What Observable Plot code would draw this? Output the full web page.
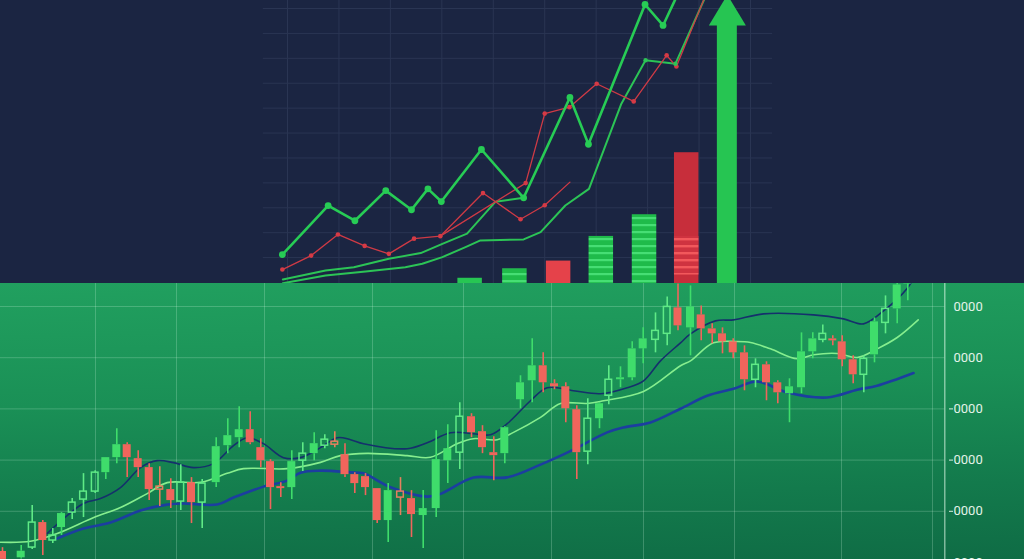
<!DOCTYPE html>
<html><head><meta charset="utf-8">
<script src="https://cdn.jsdelivr.net/npm/d3@7"></script>
<script src="https://cdn.jsdelivr.net/npm/@observablehq/plot@0.6"></script>
<style>
html,body{margin:0;padding:0;background:#1b2542;width:1024px;height:559px;overflow:hidden;}
#top{width:1024px;height:283px;background:#1b2542;}
#bottom{width:1024px;height:276px;background:linear-gradient(178deg,#21a05f 0%,#1a9056 40%,#137a4c 75%,#0f6c45 100%);}
svg{display:block;overflow:hidden;}
</style></head><body><div id="top"></div><div id="bottom"></div>
<script>
// ---------- TOP PANEL DATA ----------
const topGridX = [0,1,2,3,4,5,6,7,8,9];
const topGridY = [1,2,3,4,5,6,7,8,9,10,11];
const greenX = [-0.10,0.79,1.31,1.91,2.41,2.73,2.99,3.77,4.59,5.49,5.85,6.95,7.30,7.75];
const greenY = [1.12,3.09,2.48,3.69,2.92,3.76,3.25,5.34,3.40,7.43,5.55,11.16,10.32,12.3];
const redAX = [-0.10,0.46,0.98,1.50,1.97,2.46,2.97,3.80,4.53,5.00,5.49];
const redAY = [0.52,1.08,1.93,1.47,1.15,1.76,1.86,3.59,2.54,3.10,4.03];
const redBX = [2.97,4.63,5.00,5.48,6.01,6.73,7.37,7.56,8.22];
const redBY = [1.86,3.99,6.78,7.04,7.98,7.27,9.12,8.67,12.0];
const midGreenX = [-0.09,0.74,1.29,1.97,2.59,3.01,3.49,4.04,4.59];
const midGreenY = [0.12,0.48,0.61,0.95,1.18,1.55,1.96,3.24,3.40];
const lowGreenX = [-0.09,0.74,1.52,2.29,2.62,3.01,3.46,3.75,4.59,4.92,5.40,5.86,6.49,6.96,7.54,8.26];
const lowGreenY = [-0.03,0.28,0.44,0.61,0.75,1.02,1.42,1.69,1.73,2.02,3.09,3.76,7.18,8.92,8.78,12.1];
const barX = [3.55,4.42,5.27,6.10,6.94,7.76];
const barValue = [0.17,0.55,0.86,1.85,2.72,5.21];
const barKind = ["up","up","down","up","up","down"];
const arrowX = 8.55, arrowValue = 10.32, arrowTip = 11.55;

// ---------- BOTTOM PANEL DATA ----------
const candleT = [0.2,2.07,3.17,4.23,5.23,6.10,7.17,8.30,9.47,10.53,11.63,12.67,13.77,14.87,15.93,17.03,18.03,19.10,20.17,21.57,22.73,23.87,24.97,26.03,27.00,28.03,29.13,30.23,31.37,32.43,33.43,34.45,35.43,36.50,37.67,38.77,40.00,41.10,42.27,43.57,44.73,45.93,47.10,48.20,49.33,50.43,52.00,53.17,54.27,55.40,56.53,57.63,58.73,59.90,60.83,62.00,63.17,64.27,65.50,66.67,67.75,69.00,70.07,71.17,72.20,73.27,74.40,75.50,76.60,77.73,78.90,80.10,81.23,82.23,83.23,84.17,85.27,86.33,87.40,88.50,89.67,90.73];
const candleOpen = [215,92,292,780,429,683,975,1229,1385,1755,2048,2301,2028,1853,1482,1424,1190,1560,1170,1560,2282,2438,2594,2243,1970,1482,1463,1989,2126,2282,2360,2106,1716,1677,1443,819,1385,1248,917,1053,1989,2145,2847,2555,2145,2126,3179,3549,3842,3491,3432,2984,2165,2808,3257,3569,3608,4173,4349,4466,4973,4583,4836,4563,4466,4310,4095,3569,3861,3510,3296,3413,4115,4349,4368,4310,3959,3666,4056,4680,4953,5440];
const candleClose = [60,220,780,429,527,956,1170,1385,1755,2048,2301,2048,1853,1424,1424,1209,1560,1170,1541,2262,2477,2594,2340,1989,1463,1443,1970,2126,2321,2399,2301,1716,1541,1463,819,1404,1268,936,1053,2009,2223,2847,2535,2243,2087,2633,3510,3842,3510,3432,3003,2145,2808,3101,3569,3608,4173,4368,4524,4992,4622,4992,4563,4466,4310,4095,3569,3861,3510,3315,3432,4115,4368,4466,4329,3959,3666,3978,4700,4953,5421,5900];
const candleHigh = [290,332,1112,819,663,975,1248,1736,1794,2048,2613,2340,2184,1931,1872,1638,1911,1658,1619,2438,2808,3042,2945,2418,2009,1560,2184,2340,2535,2496,2555,2321,1755,1736,1443,1541,1658,1404,1404,2574,2691,3120,2906,2672,2457,2652,3647,4368,4095,3569,3510,3062,3198,3120,3842,3822,4310,4583,4875,5187,5441,5402,5012,4661,4583,4368,4232,3978,3920,3549,3588,4485,4485,4641,4427,4427,4037,4037,4778,5207,5694,6050];
const candleLow = [20,68,254,137,371,527,839,878,1346,1619,1931,1658,1658,1209,1092,1053,1014,761,663,1463,2126,2243,2301,1853,1034,1268,1229,1775,1989,2223,2243,1658,1346,1307,761,390,917,488,273,878,1541,1814,2438,2126,1599,1931,3003,3120,3315,3374,2730,1619,1911,2613,3081,3413,3549,3881,4095,4232,4524,4037,4329,4271,4076,3978,3354,3413,3159,3101,2730,3296,3978,4290,4232,3822,3491,3315,3900,4466,4661,5110];
const candleKind = ["r","g","hg","r","hg","g","hg","hg","hg","g",
  "g","r","r","r","hr","r","hg","r","hg","g",
  "g","g","r","r","r","r","g","hg","g","hg",
  "hr","r","r","r","r","g","hr","r","g","g",
  "g","hg","r","r","r","g","g","g","r","r",
  "r","r","hg","g","hg","g","g","g","hg","hg",
  "r","g","r","r","r","r","r","hg","r","r",
  "g","g","g","hg","r","r","r","hg","g","hg",
  "g","g"];
const upperT = [4.67,8.3,10.0,12.0,14.0,15.67,17.3,19.3,21.3,23.3,24.67,26.3,28.3,30.0,32.0,33.67,35.0,36.3,40.67,42.67,45.0,47.3,49.0,50.67,53.0,54.67,57.3,60.0,62.67,64.3,66.0,68.0,69.0,71.5,73.3,76.3,81.3,84.3,86.3,88.3,90.7,92.0];
const upperP = [566,1151,1248,1463,1853,1989,1950,1853,1931,2282,2438,2321,2048,2048,2243,2438,2399,2321,2223,2340,2535,2516,2496,2711,3159,3413,3354,3296,3413,3549,3939,4290,4466,4719,4739,4856,4836,4758,4661,4914,5363,5792];
const midT = [0,3.0,5.67,9.33,12.0,14.67,16.67,20.0,22.67,24.3,28.67,32.0,34.0,36.67,40.67,43.0,45.67,47.3,49.67,51.3,54.0,56.0,58.67,60.3,64.3,68.0,69.0,71.3,73.67,75.0,77.0,79.67,81.3,83.67,85.67,87.67,89.67,91.77];
const midP = [396,415,566,878,1073,1346,1560,1566,1741,1833,1833,1956,2087,2132,2087,2054,2321,2418,2399,2541,2834,3106,3106,3159,3340,3842,3939,4290,4316,4296,4173,3978,4056,4082,4004,4173,4394,4739];
const lowerT = [5.67,8.3,11.0,14.0,16.67,18.3,21.67,23.3,26.3,28.67,30.0,32.0,35.0,36.3,39.0,42.67,44.0,47.3,50.67,54.0,57.3,60.67,62.3,65.0,68.0,70.67,73.3,75.67,78.67,82.67,85.67,87.67,91.3];
const lowerP = [468,663,780,1014,1131,1151,1131,1268,1482,1599,1755,1794,1761,1741,1468,1287,1340,1658,1663,1911,2204,2541,2638,2736,3003,3257,3393,3535,3321,3223,3374,3452,3700];
const gridT = [9.5,17.6,26.4,37.2,46.3,55.1,64.3,73.4,84.1,93.2];
const gridP = [0,1000,2000,3000,4000,5000];
const axisLabels = ["0000","0000","0000","0000","0000","0000"];
const axisT = 94.43;

// ---------- TOP CHART ----------
const zip = (xs, ys) => xs.map((x, i) => ({x, y: ys[i]}));
const bars = barX.map((x, i) => ({x, v: barValue[i], kind: barKind[i], i}));
const barFill = d => d.kind === "up" ? (d.i === 0 ? "#27c653" : "url(#gstripe)") : (d.v > 2 ? "#c72e3b" : "#e5424a");
const bw = 0.238;
const topChart = Plot.plot({
  width: 1024, height: 283, margin: 0,
  style: {background: "transparent"},
  x: {domain: [0, 9], range: [287, 750], axis: null},
  y: {domain: [0, 11], range: [282, 8], axis: null},
  color: {type: "identity"},
  marks: [
    Plot.ruleX(topGridX, {stroke: "#2a3553", strokeWidth: 1}),
    Plot.ruleY(topGridY, {x1: -0.47, x2: 9.43, stroke: "#2a3553", strokeWidth: 1}),
    Plot.rect(bars, {x1: d => d.x - bw, x2: d => d.x + bw, y1: -0.1, y2: "v", fill: barFill}),
    Plot.rect(bars.filter(d => d.kind === "down" && d.v > 2), {x1: d => d.x - bw, x2: d => d.x + bw, y1: 0.3, y2: 1.85, fill: "url(#rstripe)"}),
    Plot.line(zip(lowGreenX, lowGreenY), {x: "x", y: "y", stroke: "#2cc456", strokeWidth: 2}),
    Plot.line(zip(midGreenX, midGreenY), {x: "x", y: "y", stroke: "#2cc456", strokeWidth: 2}),
    Plot.line(zip(redAX, redAY), {x: "x", y: "y", stroke: "#cf3a45", strokeWidth: 1.3}),
    Plot.line(zip(redBX, redBY), {x: "x", y: "y", stroke: "#cf3a45", strokeWidth: 1.3}),
    Plot.dot(zip(redAX, redAY).slice(0, -1), {x: "x", y: "y", r: 2.3, fill: "#d63a45"}),
    Plot.dot(zip(redBX, redBY).slice(1, -1), {x: "x", y: "y", r: 2.3, fill: "#d63a45"}),
    Plot.dot(zip(lowGreenX, lowGreenY).slice(13, 15), {x: "x", y: "y", r: 2.2, fill: "#2cc456"}),
    Plot.line(zip(greenX, greenY), {x: "x", y: "y", stroke: "#27cc55", strokeWidth: 2.6}),
    Plot.dot(zip(greenX, greenY).slice(0, -1), {x: "x", y: "y", r: 3.4, fill: "#27cc55"}),
    Plot.rect([arrowX], {x1: d => d - 0.194, x2: d => d + 0.194, y1: -0.1, y2: arrowValue + 0.05, fill: "#26c552"}),
    Plot.line([[arrowX - 0.36, arrowValue], [arrowX + 0.36, arrowValue], [arrowX, arrowTip], [arrowX - 0.36, arrowValue]], {x: d => d[0], y: d => d[1], fill: "#26c552", stroke: "none"})
  ]
});
d3.select(topChart).insert("defs", ":first-child").html(
  `<pattern id="gstripe" patternUnits="userSpaceOnUse" width="8" height="7"><rect width="8" height="7" fill="#1fbb4a"/><rect y="0" width="8" height="2.2" fill="#46de74"/></pattern>` +
  `<pattern id="rstripe" patternUnits="userSpaceOnUse" width="8" height="7"><rect width="8" height="7" fill="#cf3340"/><rect y="0" width="8" height="2.4" fill="#f2585c"/></pattern>`);
document.getElementById("top").appendChild(topChart);

// ---------- BOTTOM CHART ----------
const candles = candleT.map((t, i) => ({t, open: candleOpen[i], close: candleClose[i], high: candleHigh[i], low: candleLow[i], kind: candleKind[i]}));
const cColor = k => ({g: "#3fdd6b", hg: "#5fea86", r: "#f0655c", hr: "#e5805e"})[k];
const hw = 0.4;
const filled = candles.filter(d => d.kind === "g" || d.kind === "r");
const hollow = candles.filter(d => d.kind === "hg" || d.kind === "hr");
const zipTP = (ts, ps) => ts.map((t, i) => ({t, p: ps[i]}));
const bottomChart = Plot.plot({
  width: 1024, height: 276, margin: 0,
  style: {background: "transparent"},
  x: {domain: [0, 102.4], range: [0, 1024], axis: null},
  y: {domain: [0, 5000], range: [279, 23], axis: null},
  color: {type: "identity"},
  marks: [
    Plot.ruleX(gridT, {stroke: "rgba(220,255,230,0.22)", strokeWidth: 1}),
    Plot.ruleY(gridP, {x1: 0, x2: axisT, stroke: "rgba(220,255,230,0.22)", strokeWidth: 1}),
    Plot.ruleX([axisT], {stroke: "rgba(235,255,240,0.6)", strokeWidth: 1.3}),
    Plot.ruleY([1000, 2000, 3000], {x1: 94.9, x2: 95.3, stroke: "#dcefe2", strokeWidth: 1}),
    Plot.text(gridP, {x: 95.3, y: d => d, text: (d, i) => axisLabels[i], textAnchor: "start", fill: "#e3f3e8", fontSize: 13, fontFamily: "Roboto, 'Liberation Sans', sans-serif"}),
    Plot.line(zipTP(lowerT, lowerP), {x: "t", y: "p", stroke: "#1c3ea0", strokeWidth: 2.6, curve: "catmull-rom"}),
    Plot.line(zipTP(upperT, upperP), {x: "t", y: "p", stroke: "#15306c", strokeWidth: 1.6, curve: "catmull-rom"}),
    Plot.line(zipTP(midT, midP), {x: "t", y: "p", stroke: "#86ee8e", strokeWidth: 1.6, curve: "catmull-rom"}),
    Plot.ruleX(candles, {x: "t", y1: d => Math.max(d.open, d.close), y2: "high", stroke: d => cColor(d.kind), strokeWidth: 1.6}),
    Plot.ruleX(candles, {x: "t", y1: "low", y2: d => Math.min(d.open, d.close), stroke: d => cColor(d.kind), strokeWidth: 1.6}),
    Plot.rect(filled, {x1: d => d.t - hw, x2: d => d.t + hw, y1: "open", y2: "close", fill: d => cColor(d.kind)}),
    Plot.rect(hollow, {x1: d => d.t - hw + 0.07, x2: d => d.t + hw - 0.07, y1: "open", y2: "close", fill: "none", stroke: d => cColor(d.kind), strokeWidth: 1.5})
  ]
});
document.getElementById("bottom").appendChild(bottomChart);
</script></body></html>
